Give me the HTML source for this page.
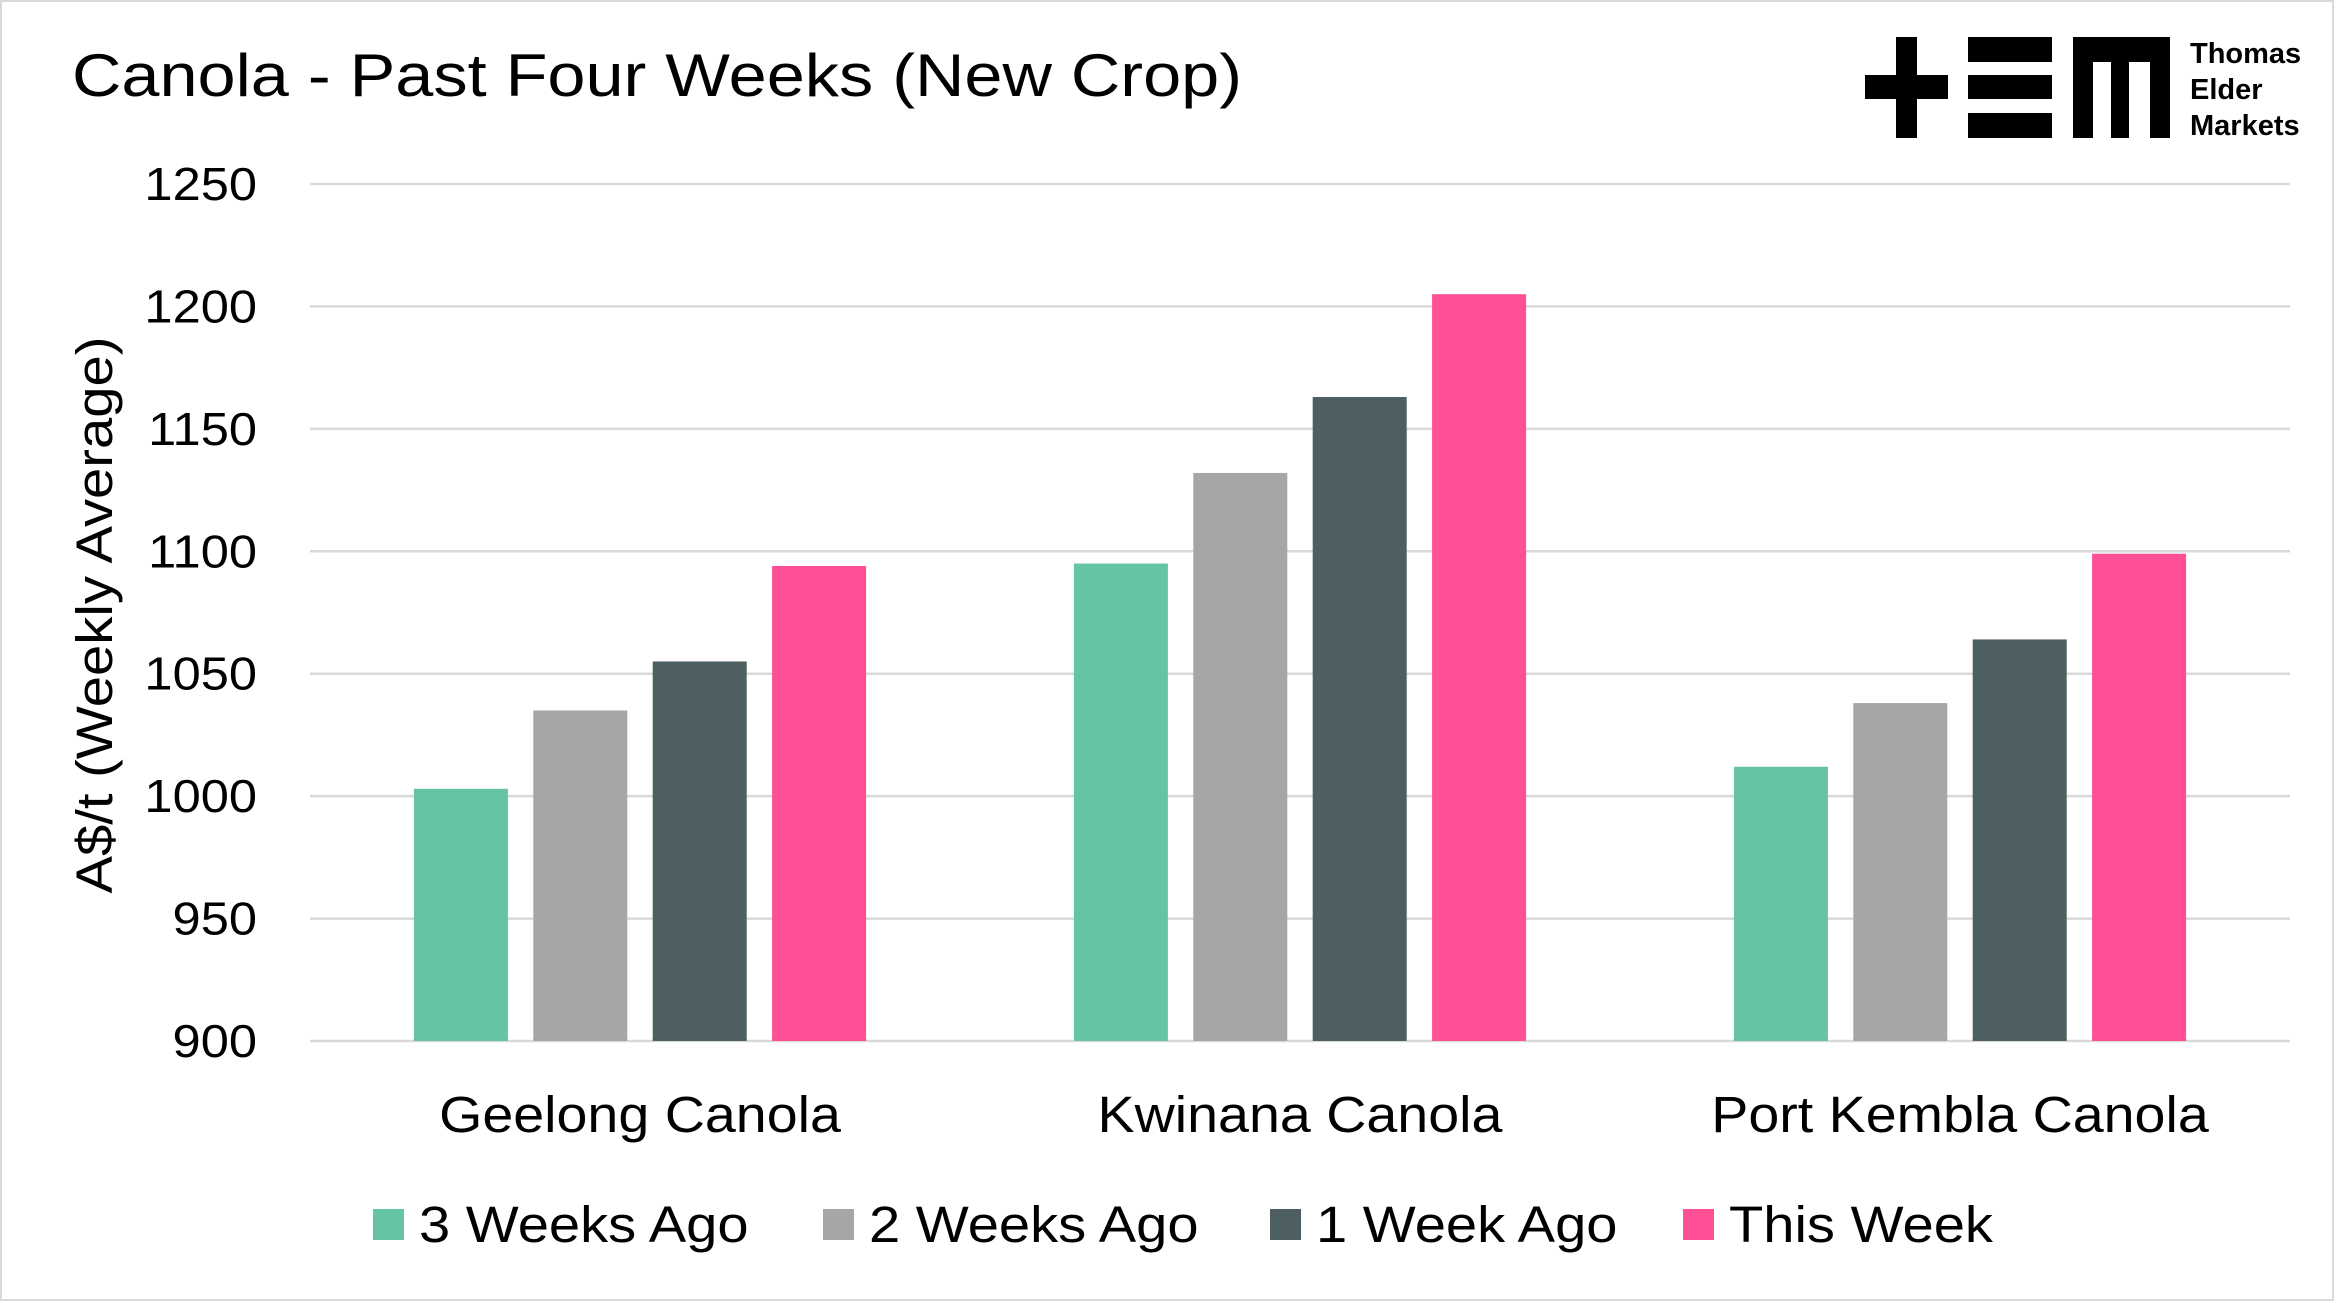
<!DOCTYPE html>
<html><head><meta charset="utf-8"><style>
html,body{margin:0;padding:0;background:#fff}
svg{display:block}
text{font-family:"Liberation Sans",sans-serif;fill:#000}
</style></head><body>
<svg id="chart" width="2341" height="1303" viewBox="0 0 2341 1303">
<rect x="1" y="1" width="2332" height="1299" fill="#fff" stroke="#d9d9d9" stroke-width="2"/>
<text x="72" y="96" font-size="60" textLength="1170" lengthAdjust="spacingAndGlyphs">Canola - Past Four Weeks (New Crop)</text>
<g>
<rect x="1896" y="37" width="21" height="101"/><rect x="1865" y="75" width="83" height="24"/>
<rect x="1968" y="37" width="84" height="25"/><rect x="1968" y="75" width="84" height="24"/><rect x="1968" y="113" width="84" height="25"/>
<rect x="2073" y="37" width="97" height="25"/><rect x="2073" y="37" width="20" height="101"/><rect x="2111" y="37" width="18" height="101"/><rect x="2150" y="37" width="20" height="101"/>
<text x="2190" y="63" font-size="29" font-weight="bold">Thomas</text>
<text x="2190" y="99" font-size="29" font-weight="bold">Elder</text>
<text x="2190" y="135" font-size="29" font-weight="bold">Markets</text>
</g>
<g id="grid"></g><g id="bars"></g><g id="labels"></g>
<text transform="translate(112,615) rotate(-90)" text-anchor="middle" font-size="51" textLength="557" lengthAdjust="spacingAndGlyphs">A$/t (Weekly Average)</text>
<g id="legend"></g>
</svg>
<script>
const categories=["Geelong Canola","Kwinana Canola","Port Kembla Canola"];
const seriesNames=["3 Weeks Ago","2 Weeks Ago","1 Week Ago","This Week"];
const s3w=[1003,1095,1012];
const s2w=[1035,1132,1038];
const s1w=[1055,1163,1064];
const sNow=[1094,1205,1099];
const yTicks=[900,950,1000,1050,1100,1150,1200,1250];
const colors=["#64C4A4","#A6A6A6","#4D5F60","#FF4F96"];
const series=[s3w,s2w,s1w,sNow];
const NS="http://www.w3.org/2000/svg";
const x0=310,x1=2290,yTop=184,yBot=1041,ymin=900,ymax=1250;
const y=v=>yBot-(v-ymin)/(ymax-ymin)*(yBot-yTop);
const gw=(x1-x0)/categories.length;
const gc=i=>x0+gw*(i+0.5);
function mk(t,a,p){const e=document.createElementNS(NS,t);for(const k in a)e.setAttribute(k,a[k]);p.appendChild(e);return e;}
function widen(t,f){const w=t.getComputedTextLength();t.setAttribute('textLength',w*f);t.setAttribute('lengthAdjust','spacingAndGlyphs');}
const grid=document.getElementById('grid');
yTicks.forEach(v=>{
 const l=mk('line',{x1:x0,x2:x1,y1:y(v),y2:y(v),stroke:'#d9d9d9','stroke-width':2.5},grid);
 
 
 const t=mk('text',{x:257,y:y(v)+16,'text-anchor':'end','font-size':46},grid);t.textContent=v;
 
 
 widen(t,1.1);
});
const bars=document.getElementById('bars'),labels=document.getElementById('labels');
const bw=94,step=119.4;
categories.forEach((c,i)=>{
 series.forEach((s,j)=>{
  const bx=gc(i)+(j-1.5)*step-bw/2;
  const r=mk('rect',{x:bx,y:y(s[i]),width:bw,height:yBot-y(s[i]),fill:colors[j]},bars);
  
  
 });
 const t=mk('text',{x:gc(i),y:1132,'text-anchor':'middle','font-size':51},labels);t.textContent=c;
 
 
 widen(t,1.09);
});
const leg=document.getElementById('legend');
const lx=[373,823,1270,1683];
seriesNames.forEach((n,j)=>{
 const r=mk('rect',{x:lx[j],y:1209,width:31,height:31,fill:colors[j]},leg);
 
 
 const t=mk('text',{x:lx[j]+46,y:1242,'font-size':51},leg);t.textContent=n;
 
 
 widen(t,1.1);
});
</script>
</body></html>
